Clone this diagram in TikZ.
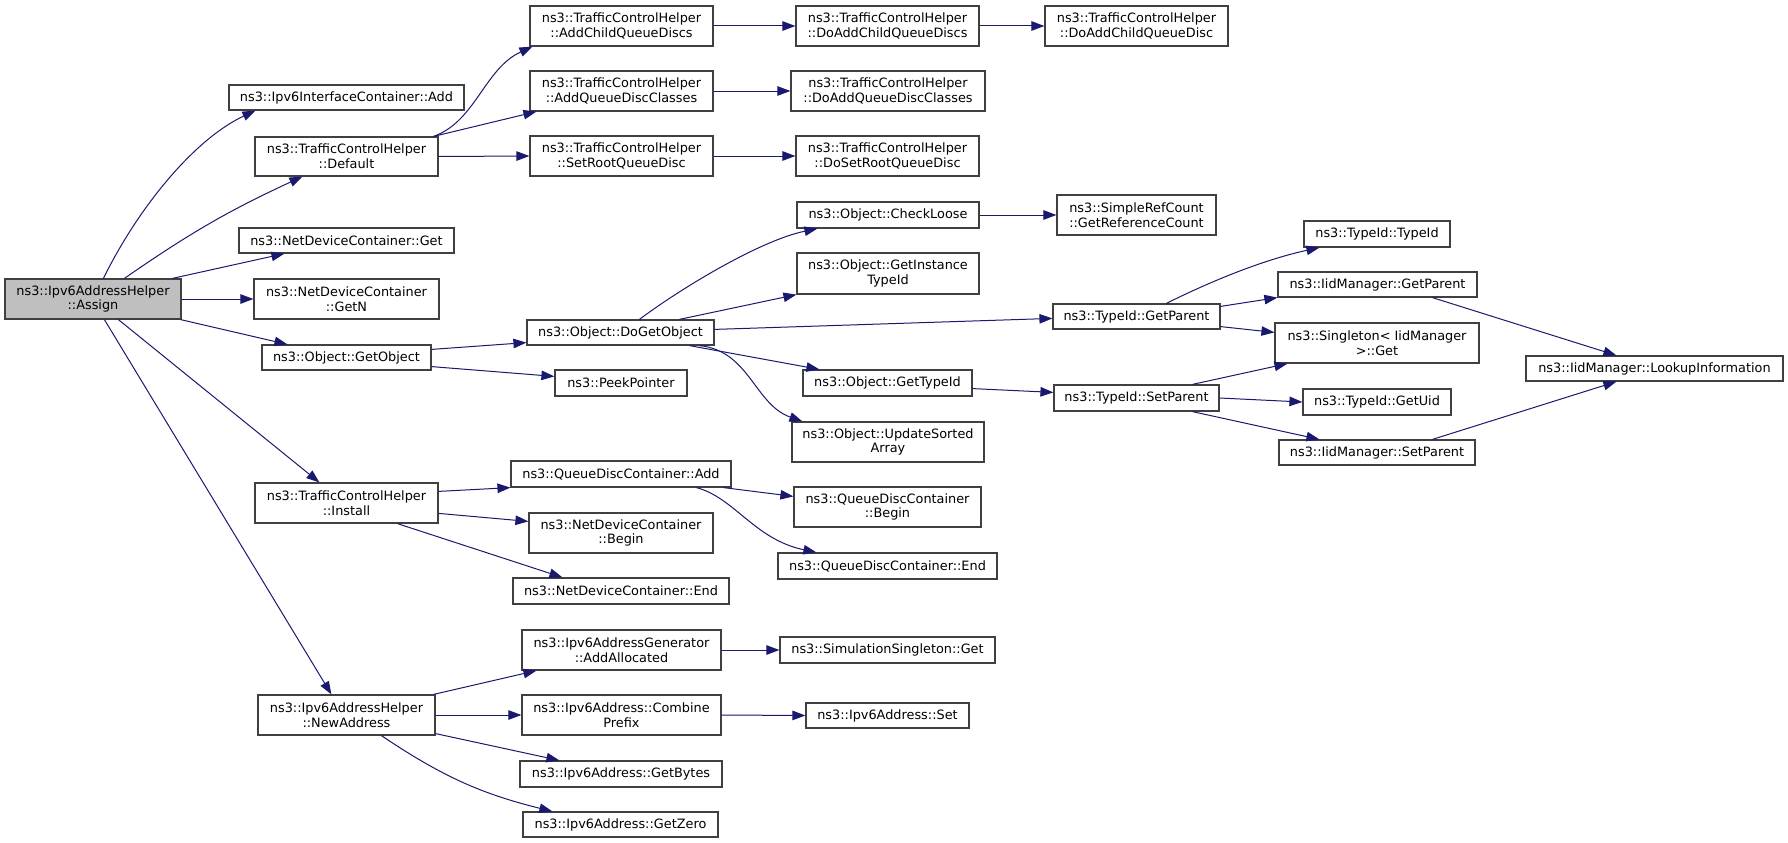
\documentclass[tikz,border=0pt]{standalone}
\usepackage{fontspec}
\setmainfont{DejaVu Sans}
\usetikzlibrary{arrows.meta,calc}
\definecolor{edgecol}{HTML}{191970}
\definecolor{boxline}{HTML}{404040}
\definecolor{rootfill}{HTML}{BFBFBF}
\begin{document}
\begin{tikzpicture}[x=1pt,y=-1pt,
  box/.style={draw=boxline, line width=1.2pt, fill=white, inner sep=0pt, align=center,
    font=\fontsize{12.85}{14.7}\selectfont},
  root/.style={box, fill=rootfill},
  edge/.style={draw=edgecol, line width=1pt, -{Triangle[length=13pt,width=9.5pt]}}]
\useasboundingbox[fill=white] (0,0) rectangle (1788,843);

% column 1
\node[root, minimum width=176pt, minimum height=40pt] (assign) at (93,299) {ns3::Ipv6AddressHelper\\::Assign};
% column 2
\node[box, minimum width=235pt, minimum height=25pt] (v6ifadd) at (346.5,97.5) {ns3::Ipv6InterfaceContainer::Add};
\node[box, minimum width=183pt, minimum height=39pt] (tchdef) at (346.5,156.5) {ns3::TrafficControlHelper\\::Default};
\node[box, minimum width=215pt, minimum height=25pt] (ndcget) at (346.5,240.5) {ns3::NetDeviceContainer::Get};
\node[box, minimum width=185pt, minimum height=40pt] (ndcgetn) at (346.5,299) {ns3::NetDeviceContainer\\::GetN};
\node[box, minimum width=169pt, minimum height=25pt] (getobj) at (346.5,357.5) {ns3::Object::GetObject};
\node[box, minimum width=183pt, minimum height=40pt] (tchinst) at (346.5,503) {ns3::TrafficControlHelper\\::Install};
\node[box, minimum width=177pt, minimum height=40pt] (newaddr) at (346.5,715) {ns3::Ipv6AddressHelper\\::NewAddress};
% column 3
\node[box, minimum width=183pt, minimum height=40pt] (addchild) at (621.5,26) {ns3::TrafficControlHelper\\::AddChildQueueDiscs};
\node[box, minimum width=183pt, minimum height=40pt] (addqdc) at (621.5,91) {ns3::TrafficControlHelper\\::AddQueueDiscClasses};
\node[box, minimum width=183pt, minimum height=40pt] (setroot) at (621.5,156) {ns3::TrafficControlHelper\\::SetRootQueueDisc};
\node[box, minimum width=187pt, minimum height=25pt] (dogetobj) at (620.5,332.5) {ns3::Object::DoGetObject};
\node[box, minimum width=132pt, minimum height=26pt] (peek) at (621,383) {ns3::PeekPointer};
\node[box, minimum width=220pt, minimum height=26pt] (qdcadd) at (621,474) {ns3::QueueDiscContainer::Add};
\node[box, minimum width=184pt, minimum height=40pt] (ndcbegin) at (621,533) {ns3::NetDeviceContainer\\::Begin};
\node[box, minimum width=216pt, minimum height=26pt] (ndcend) at (621,591) {ns3::NetDeviceContainer::End};
\node[box, minimum width=199pt, minimum height=40pt] (addalloc) at (621.5,650) {ns3::Ipv6AddressGenerator\\::AddAllocated};
\node[box, minimum width=199pt, minimum height=40pt] (combine) at (621.5,715) {ns3::Ipv6Address::Combine\\Prefix};
\node[box, minimum width=202pt, minimum height=26pt] (getbytes) at (621,774) {ns3::Ipv6Address::GetBytes};
\node[box, minimum width=195pt, minimum height=25pt] (getzero) at (620.5,824.5) {ns3::Ipv6Address::GetZero};
% column 4
\node[box, minimum width=183pt, minimum height=40pt] (doaddchild) at (887.5,26) {ns3::TrafficControlHelper\\::DoAddChildQueueDiscs};
\node[box, minimum width=194pt, minimum height=40pt] (doaddqdc) at (888,91) {ns3::TrafficControlHelper\\::DoAddQueueDiscClasses};
\node[box, minimum width=183pt, minimum height=40pt] (dosetroot) at (887.5,156) {ns3::TrafficControlHelper\\::DoSetRootQueueDisc};
\node[box, minimum width=182pt, minimum height=26pt] (checkloose) at (888,215) {ns3::Object::CheckLoose};
\node[box, minimum width=182pt, minimum height=41pt] (getinst) at (888,273.5) {ns3::Object::GetInstance\\TypeId};
\node[box, minimum width=169pt, minimum height=26pt] (gettypeid) at (887.5,383) {ns3::Object::GetTypeId};
\node[box, minimum width=192pt, minimum height=40pt] (updsorted) at (888,442) {ns3::Object::UpdateSorted\\Array};
\node[box, minimum width=187pt, minimum height=40pt] (qdcbegin) at (887.5,507) {ns3::QueueDiscContainer\\::Begin};
\node[box, minimum width=219pt, minimum height=26pt] (qdcend) at (887.5,566) {ns3::QueueDiscContainer::End};
\node[box, minimum width=215pt, minimum height=26pt] (simsing) at (887.5,650) {ns3::SimulationSingleton::Get};
\node[box, minimum width=163pt, minimum height=25pt] (v6set) at (887.5,715.5) {ns3::Ipv6Address::Set};
% column 5
\node[box, minimum width=183pt, minimum height=40pt] (doaddchildqd) at (1136.5,26) {ns3::TrafficControlHelper\\::DoAddChildQueueDisc};
\node[box, minimum width=159pt, minimum height=40pt] (getrefcount) at (1136.5,215) {ns3::SimpleRefCount\\::GetReferenceCount};
\node[box, minimum width=167pt, minimum height=25pt] (tidgetparent) at (1136.5,316.5) {ns3::TypeId::GetParent};
\node[box, minimum width=165pt, minimum height=26pt] (tidsetparent) at (1136.5,398) {ns3::TypeId::SetParent};
% column 6
\node[box, minimum width=146pt, minimum height=26pt] (tidtypeid) at (1377,234) {ns3::TypeId::TypeId};
\node[box, minimum width=199pt, minimum height=25pt] (iidgetparent) at (1377.5,284.5) {ns3::IidManager::GetParent};
\node[box, minimum width=204pt, minimum height=40pt] (singleton) at (1377,343) {ns3::Singleton< IidManager\\>::Get};
\node[box, minimum width=148pt, minimum height=26pt] (getuid) at (1377,402) {ns3::TypeId::GetUid};
\node[box, minimum width=196pt, minimum height=25pt] (iidsetparent) at (1377,452.5) {ns3::IidManager::SetParent};
% column 7
\node[box, minimum width=257pt, minimum height=25pt] (lookup) at (1654.5,368.5) {ns3::IidManager::LookupInformation};

% edges from Assign
\draw[edge] ($(assign.north west)+(99,0)$) .. controls +(36,-73) and +(-60,28) .. ($(v6ifadd.south west)+(27,0)$);
\draw[edge] ($(assign.north west)+(120,0)$) to[bend left=5] ($(tchdef.south west)+(48,0)$);
\draw[edge] ($(assign.north west)+(168,0)$) -- ($(ndcget.south west)+(46,0)$);
\draw[edge] (assign.east) -- (ndcgetn.west);
\draw[edge] ($(assign.south east)+(-1,0)$) -- ($(getobj.north west)+(26,0)$);
\draw[edge] ($(assign.south west)+(114,0)$) -- ($(tchinst.north west)+(65,0)$);
\draw[edge] ($(assign.south west)+(100,0)$) -- ($(newaddr.north west)+(74,0)$);

% Default
\draw[edge] ($(tchdef.north east)+(-5,0)$) .. controls +(42,-15) and +(-48,22) .. ($(addchild.south west)+(3,0)$);
\draw[edge] ($(tchdef.north east)+(-5,0)$) -- ($(addqdc.south west)+(7,0)$);
\draw[edge] (tchdef.east) -- (setroot.west);
\draw[edge] (addchild.east) -- (doaddchild.west);
\draw[edge] (addqdc.east) -- (doaddqdc.west);
\draw[edge] (setroot.east) -- (dosetroot.west);
\draw[edge] (doaddchild.east) -- (doaddchildqd.west);

% GetObject
\draw[edge] ($(getobj.north east)+(0,5)$) -- ($(dogetobj.south west)+(0,-3)$);
\draw[edge] ($(getobj.south east)+(0,-4)$) -- ($(peek.north west)+(0,7)$);

% DoGetObject
\draw[edge] ($(dogetobj.north west)+(113,0)$) .. controls +(40,-30) and +(-58,12) .. ($(checkloose.south west)+(21,0)$);
\draw[edge] ($(dogetobj.north west)+(153,0)$) -- (getinst.south west);
\draw[edge] ($(dogetobj.north east)+(0,10)$) -- ($(tidgetparent.north west)+(0,15)$);
\draw[edge] ($(dogetobj.south west)+(163,0)$) -- ($(gettypeid.north west)+(17,0)$);
\draw[edge] ($(dogetobj.south west)+(173,0)$) .. controls +(50,5) and +(-48,-17) .. ($(updsorted.north west)+(11,0)$);
\draw[edge] (checkloose.east) -- (getrefcount.west);

% TypeId::GetParent
\draw[edge] ($(tidgetparent.north west)+(114,0)$) .. controls +(38,-19) and +(-60,13) .. ($(tidtypeid.south west)+(16,0)$);
\draw[edge] ($(tidgetparent.north east)+(0,3)$) -- (iidgetparent.south west);
\draw[edge] ($(tidgetparent.south east)+(0,-3)$) -- ($(singleton.north west)+(0,10)$);

% GetTypeId / SetParent
\draw[edge] ($(gettypeid.south east)+(0,-8)$) -- ($(tidsetparent.north west)+(0,8)$);
\draw[edge] ($(tidsetparent.north west)+(139,0)$) -- ($(singleton.south west)+(13,0)$);
\draw[edge] (tidsetparent.east) -- (getuid.west);
\draw[edge] ($(tidsetparent.south west)+(139,0)$) -- ($(iidsetparent.north west)+(41,0)$);
\draw[edge] ($(iidgetparent.south west)+(155,0)$) -- ($(lookup.north west)+(91,0)$);
\draw[edge] ($(iidsetparent.north west)+(154,0)$) -- ($(lookup.south west)+(91,0)$);

% Install
\draw[edge] ($(tchinst.north east)+(0,9)$) -- (qdcadd.south west);
\draw[edge] ($(tchinst.north east)+(0,31)$) -- ($(ndcbegin.north west)+(0,9)$);
\draw[edge] ($(tchinst.south west)+(143,0)$) -- ($(ndcend.north west)+(50,0)$);
\draw[edge] ($(qdcadd.south east)+(-8,0)$) -- ($(qdcbegin.north west)+(0,10)$);
\draw[edge] ($(qdcadd.south west)+(186,0)$) .. controls +(38,10) and +(-62,-13) .. ($(qdcend.north west)+(39,0)$);

% NewAddress
\draw[edge] ($(newaddr.north east)+(-2,0)$) -- ($(addalloc.south west)+(15,0)$);
\draw[edge] (newaddr.east) -- (combine.west);
\draw[edge] ($(newaddr.south east)+(0,-2)$) -- ($(getbytes.north west)+(40,0)$);
\draw[edge] ($(newaddr.south west)+(124,0)$) to[bend right=10] ($(getzero.north west)+(30,0)$);
\draw[edge] (addalloc.east) -- (simsing.west);
\draw[edge] (combine.east) -- (v6set.west);
\end{tikzpicture}
\end{document}
